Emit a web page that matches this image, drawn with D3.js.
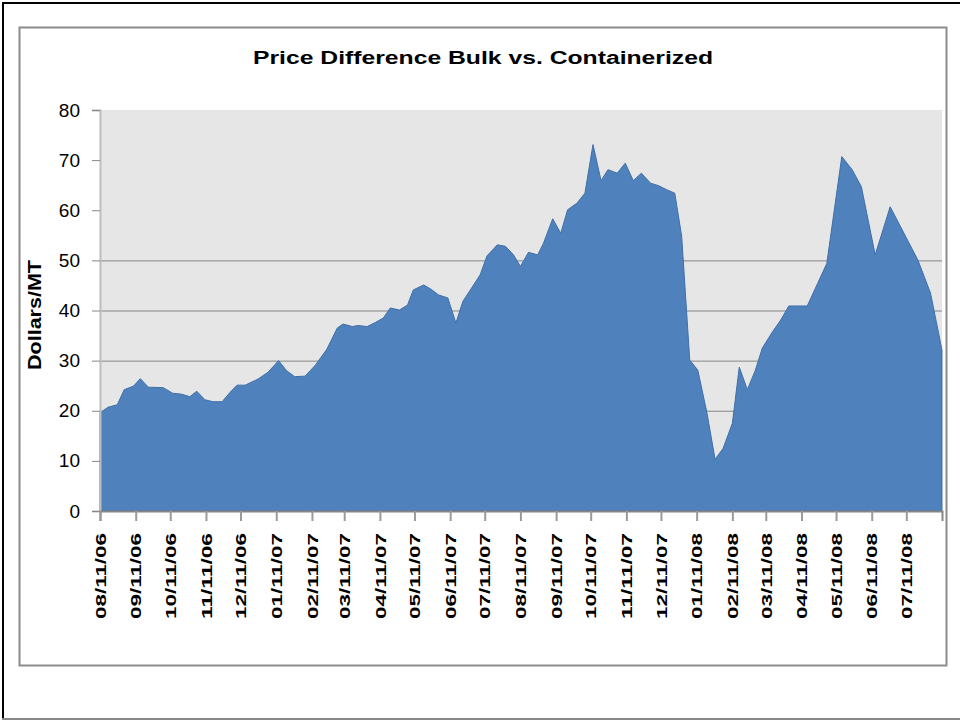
<!DOCTYPE html>
<html>
<head>
<meta charset="utf-8">
<script src="https://cdn.jsdelivr.net/npm/d3@7"></script>
<style>
  body { margin: 0; background: #fff; }
  svg { display: block; font-family: "Liberation Sans", Arial, sans-serif; }
</style>
</head>
<body>
<script>
var dates = [
  "2006-08-11","2006-08-18","2006-08-26","2006-09-01","2006-09-09","2006-09-15","2006-09-22",
  "2006-10-05","2006-10-13","2006-10-21","2006-10-28","2006-11-03","2006-11-10","2006-11-17",
  "2006-11-25","2006-12-02","2006-12-08","2006-12-15","2006-12-26","2007-01-04","2007-01-13",
  "2007-01-20","2007-01-27","2007-02-05","2007-02-14","2007-02-24","2007-03-05","2007-03-10",
  "2007-03-18","2007-03-23","2007-03-31","2007-04-07","2007-04-14","2007-04-20","2007-04-28",
  "2007-05-05","2007-05-10","2007-05-19","2007-05-25","2007-06-01","2007-06-09","2007-06-16",
  "2007-06-22","2007-07-07","2007-07-13","2007-07-22","2007-07-29","2007-08-05","2007-08-11",
  "2007-08-18","2007-08-26","2007-08-31","2007-09-08","2007-09-15","2007-09-21","2007-09-29",
  "2007-10-06","2007-10-13","2007-10-20","2007-10-26","2007-11-03","2007-11-10","2007-11-17",
  "2007-11-24","2007-12-02","2007-12-09","2007-12-16","2007-12-23","2007-12-29","2008-01-05",
  "2008-01-12","2008-01-20","2008-01-27","2008-02-03","2008-02-11","2008-02-17","2008-02-24",
  "2008-03-02","2008-03-08","2008-03-17","2008-03-24","2008-03-31","2008-04-16","2008-04-25",
  "2008-05-03","2008-05-16","2008-05-25","2008-06-02","2008-06-14","2008-06-27","2008-07-21",
  "2008-08-01","2008-08-11"
];
var priceDiff = [
  19.6, 20.7, 21.2, 24.2, 24.9, 26.4, 24.7,
  24.6, 23.5, 23.3, 22.8, 23.9, 22.2, 21.8,
  21.8, 23.7, 25.1, 25.1, 26.3, 27.7, 30.0,
  28.0, 26.8, 26.9, 29.1, 32.3, 36.5, 37.3,
  36.8, 37.0, 36.8, 37.6, 38.5, 40.5, 40.1,
  41.1, 44.1, 45.1, 44.3, 43.1, 42.5, 37.5,
  41.8, 47.1, 50.9, 53.1, 52.8, 51.1, 48.8,
  51.6, 51.1, 53.4, 58.3, 55.4, 60.1, 61.4,
  63.4, 73.1, 65.9, 68.1, 67.4, 69.4, 65.9,
  67.4, 65.4, 64.9, 64.1, 63.4, 54.8, 30.1,
  28.1, 19.5, 10.3, 12.5, 17.5, 28.7, 24.2,
  28.1, 32.5, 35.8, 38.1, 40.9, 40.9, 45.4,
  49.4, 70.7, 68.1, 64.7, 51.1, 60.7, 50.1,
  43.5, 32.1
];
var xTickLabels = [
  "08/11/06","09/11/06","10/11/06","11/11/06","12/11/06","01/11/07","02/11/07","03/11/07",
  "04/11/07","05/11/07","06/11/07","07/11/07","08/11/07","09/11/07","10/11/07","11/11/07",
  "12/11/07","01/11/08","02/11/08","03/11/08","04/11/08","05/11/08","06/11/08","07/11/08"
];
var yTicks = [0, 10, 20, 30, 40, 50, 60, 70, 80];
var gridValues = [10, 20, 30, 40, 50];
var dateRange = ["2006-08-11", "2008-08-11"];

var scr = { w: 960, h: 721 };
var plot = { left: 100, right: 942, top: 110, bottom: 511 };

var parseDay = d3.timeParse("%Y-%m-%d");
var parseTick = d3.timeParse("%m/%d/%y");
var data = dates.map(function(d, i){
  return { date: parseDay(d), value: priceDiff[i] };
});

var svg = d3.select("body").append("svg")
  .attr("width", scr.w)
  .attr("height", scr.h);

// outer frame: black top and left, grey bottom
svg.append("line").attr("x1", 2).attr("x2", 960).attr("y1", 3).attr("y2", 3)
  .attr("stroke", "#000").attr("stroke-width", 2);
svg.append("line").attr("x1", 3).attr("x2", 3).attr("y1", 2).attr("y2", 720)
  .attr("stroke", "#000").attr("stroke-width", 2);
svg.append("line").attr("x1", 2).attr("x2", 960).attr("y1", 719).attr("y2", 719)
  .attr("stroke", "#888").attr("stroke-width", 2);

// chart frame
svg.append("rect").attr("x", 19.5).attr("y", 27.5).attr("width", 927).attr("height", 638)
  .attr("fill", "#fff").attr("stroke", "#8c8c8c").attr("stroke-width", 2);

var x = d3.scaleTime()
  .domain(dateRange.map(parseDay))
  .range([plot.left, plot.right]);
var y = d3.scaleLinear()
  .domain([0, 80])
  .range([plot.bottom, plot.top]);

svg.append("rect")
  .attr("x", plot.left).attr("y", plot.top)
  .attr("width", plot.right - plot.left).attr("height", plot.bottom - plot.top)
  .attr("fill", "#e6e6e6");

svg.append("g").classed("grid", true)
  .selectAll("line").data(gridValues).enter().append("line")
  .attr("x1", plot.left).attr("x2", plot.right)
  .attr("y1", function(d){ return y(d) + 0.5; })
  .attr("y2", function(d){ return y(d) + 0.5; })
  .attr("stroke", "#868686").attr("stroke-width", 1);

var area = d3.area()
  .x(function(d){ return x(d.date); })
  .y0(y(0))
  .y1(function(d){ return y(d.value); });

svg.append("path").datum(data)
  .attr("d", area)
  .attr("fill", "#4f81bd")
  .attr("stroke", "#3f6fa8")
  .attr("stroke-width", 1)
  .attr("stroke-linejoin", "round");

// y axis
var yAxis = d3.axisLeft(y).tickValues(yTicks).tickSize(8).tickPadding(12);
var gy = svg.append("g")
  .attr("transform", "translate(" + plot.left + ",0)")
  .call(yAxis);
gy.select(".domain").attr("stroke", "#bdbdbd").attr("stroke-width", 2);
gy.selectAll(".tick line").attr("stroke", "#868686");
gy.selectAll("text").attr("font-size", 19).attr("fill", "#000");

// x axis
var xAxis = d3.axisBottom(x)
  .tickValues(xTickLabels.map(parseTick))
  .tickFormat(d3.timeFormat("%m/%d/%y"))
  .tickSize(10);
var gx = svg.append("g")
  .attr("transform", "translate(0," + plot.bottom + ")")
  .call(xAxis);
gx.select(".domain").attr("stroke", "#868686").attr("stroke-width", 2);
gx.selectAll(".tick line").attr("stroke", "#9a9a9a").attr("stroke-width", 2);
gx.selectAll("text")
  .attr("x", -22).attr("y", 0).attr("dy", "0.35em")
  .attr("transform", "rotate(-90)")
  .style("text-anchor", "end")
  .attr("font-size", 15).attr("font-weight", "bold").attr("fill", "#000")
  .attr("textLength", 86).attr("lengthAdjust", "spacingAndGlyphs");

// titles
svg.append("text")
  .attr("x", 483).attr("y", 64)
  .attr("text-anchor", "middle")
  .attr("font-size", 18).attr("font-weight", "bold")
  .attr("textLength", 460).attr("lengthAdjust", "spacingAndGlyphs")
  .text("Price Difference Bulk vs. Containerized");

svg.append("text")
  .attr("transform", "translate(41,315) rotate(-90)")
  .attr("text-anchor", "middle")
  .attr("font-size", 18).attr("font-weight", "bold")
  .attr("textLength", 110).attr("lengthAdjust", "spacingAndGlyphs")
  .text("Dollars/MT");
</script>
</body>
</html>
